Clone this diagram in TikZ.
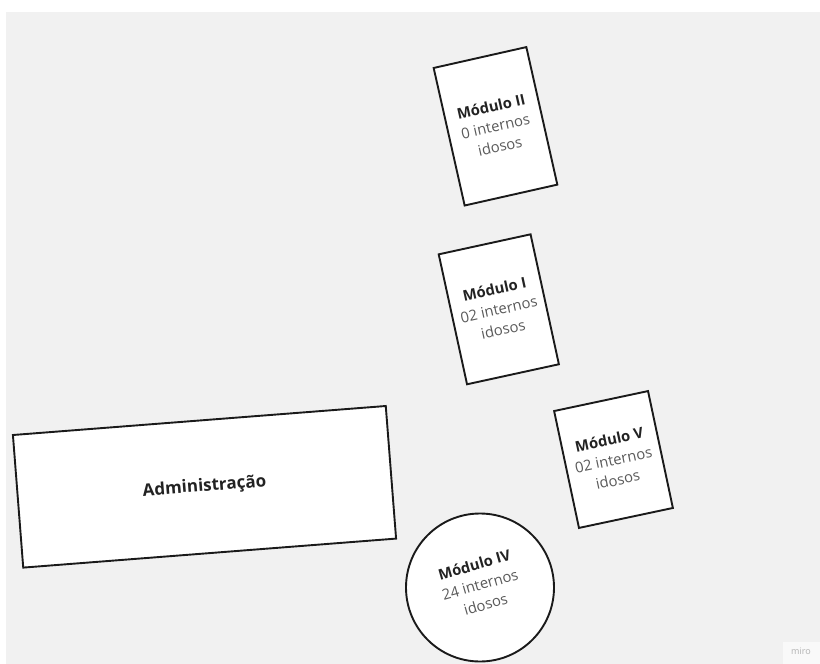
\documentclass[tikz,border=0pt]{standalone}
\usepackage{fontspec}
\setmainfont{Open Sans}
\definecolor{bgc}{HTML}{F1F1F1}
\definecolor{edge}{HTML}{1A1A1A}
\definecolor{ttlc}{HTML}{222222}
\definecolor{subc}{HTML}{5A5A5A}
\begin{document}
\begin{tikzpicture}[x=1pt,y=-1pt,
  box/.style={draw=edge, line width=1.9pt, fill=white, inner sep=0pt},
  lbl/.style={align=center, inner sep=0pt, text=subc, font=\fontsize{14.8}{20.5}\selectfont},
  ttl/.style={font=\bfseries, text=ttlc}]
\useasboundingbox (0,0) rectangle (820,664);
\fill[white] (0,0) rectangle (820,664);
\fill[bgc] (6,12) rectangle (820,664);
% Modulo II
\node[box, minimum width=95pt, minimum height=141pt, rotate=12.7] (m2) at (495.5,126.3) {};
\node[lbl, rotate=12.7] (m2t) at (m2.center) {{\bfseries\color{ttlc}Módulo II}\\0 internos\\idosos};
% Modulo I
\node[box, minimum width=94pt, minimum height=133pt, rotate=12.3] (m1) at (498.8,309.3) {};
\node[lbl, rotate=12.3] (m1t) at (m1.center) {{\bfseries\color{ttlc}Módulo I}\\02 internos\\idosos};
% Modulo V
\node[box, minimum width=96pt, minimum height=119.5pt, rotate=12] (m5) at (613.5,459.5) {};
\node[lbl, rotate=12] (m5t) at (m5.center) {{\bfseries\color{ttlc}Módulo V}\\02 internos\\idosos};
% Administracao
\node[box, minimum width=374pt, minimum height=133pt, rotate=4.45] (adm) at (204.5,486.8) {};
\node[lbl, rotate=4.45, text=ttlc, font=\fontsize{17}{20}\selectfont\bfseries] (admt) at (adm.center) {Administração};
% Modulo IV
\node[box, circle, minimum size=148pt] (m4) at (480,587.5) {};
\node[lbl, rotate=16] (m4t) at ([yshift=3pt]m4.center) {{\bfseries\color{ttlc}Módulo IV}\\24 internos\\idosos};
% watermark
\fill[white!60!bgc] (783,642) rectangle (820,664);
\node[text=black!30, font=\fontsize{9}{10}\selectfont, inner sep=0pt] (miro) at (801,651) {miro};
\end{tikzpicture}
\end{document}
